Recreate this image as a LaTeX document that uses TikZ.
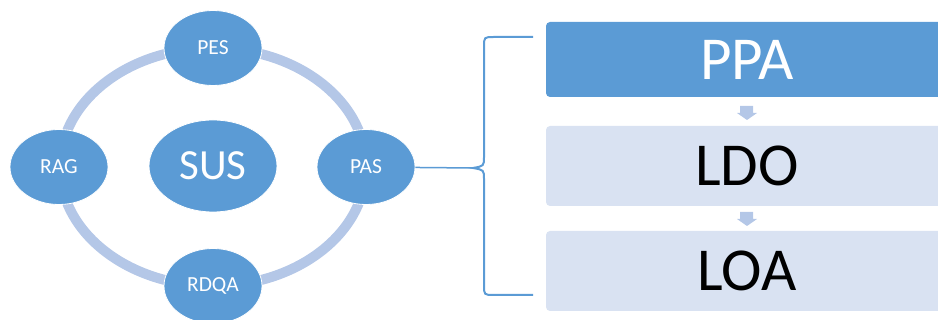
\documentclass[tikz,border=0pt]{standalone}
\usepackage{fontspec}
\setmainfont{Carlito}
\usepackage{tikz}
\usetikzlibrary{shapes.geometric}

\definecolor{midblue}{HTML}{5B9BD5}
\definecolor{paleblue}{HTML}{B4C7E7}
\definecolor{boxblue}{HTML}{D9E2F2}

\begin{document}
\begin{tikzpicture}[x = 1pt, y = -1pt, line width = 1pt,
                        part/.style = {ellipse, draw = white, line width = 0.8pt, fill = midblue, text = white,
                                       minimum width = 98pt, minimum height = 75pt, inner sep = 0pt,
                                       font = \fontsize{21.5}{24}\selectfont},
                        core/.style = {part, minimum width = 128pt, minimum height = 92pt,
                                       font = \fontsize{43}{48}\selectfont},
                        stage/.style = {rectangle, rounded corners = 4pt, fill = boxblue, text = black,
                                        minimum width = 402pt, minimum height = 80pt, inner sep = 0pt,
                                        font = \fontsize{61}{66}\selectfont},
                        ring/.style = {draw = paleblue, line width = 10pt},
                        brace/.style = {draw = midblue, line width = 2pt}]
      \useasboundingbox (0, 0) rectangle (938, 320);
      \draw [ring] (213, 167) ellipse [x radius = 153, y radius = 119];
      \node [core] (sus) at (213, 166){SUS};
      \node [part] (pes) at (213, 48){PES};
      \node [part] (rag) at (59, 167){RAG};
      \node [part] (pas) at (366, 167){PAS};
      \node [part] (rdqa) at (213, 286){RDQA};
      \node [stage, fill = midblue, text = white, minimum height = 75pt] (ppa) at (747, 59.5){PPA};
      \node [stage] (ldo) at (747, 166){LDO};
      \node [stage] (loa) at (747, 271){LOA};
      \fill [paleblue] (740, 106) -- (753, 106) -- (753, 113) -- (757, 113) -- (747, 120)
            -- (737, 113) -- (740, 113) -- cycle;
      \fill [paleblue] (740, 212) -- (753, 212) -- (753, 219) -- (757, 219) -- (747, 226)
            -- (737, 219) -- (740, 219) -- cycle;
      \coordinate (tip) at (473, 168);
      \coordinate (top) at (533, 37);
      \coordinate (bottom) at (533, 295);
      \draw [brace, line width = 1.5pt] (pas) -- (tip);
      \draw [brace] (top) -- (494, 37) .. controls (484, 37) .. (484, 47) -- (484, 157)
            .. controls (484, 166) .. (tip) .. controls (484, 170) .. (484, 179) -- (484, 285)
            .. controls (484, 295) .. (494, 295) -- (bottom);
    \end{tikzpicture}
\end{document}
